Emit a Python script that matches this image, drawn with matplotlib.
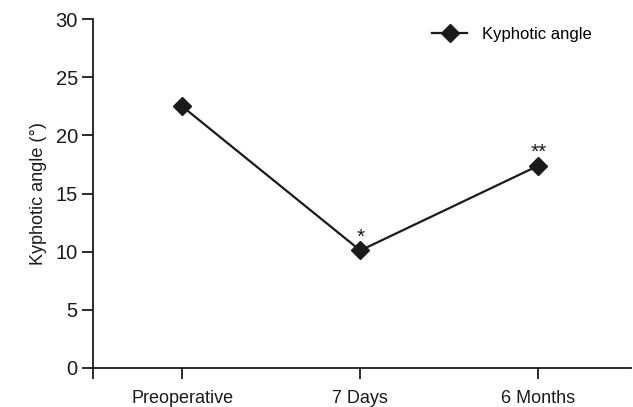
import matplotlib
matplotlib.use("Agg")
import matplotlib.pyplot as plt

plt.rcParams['font.family'] = ['Liberation Sans', 'DejaVu Sans']

# data
timepoints = ["Preoperative", "7 Days", "6 Months"]
kyphotic_angle = [22.5, 10.1, 17.4]
significance = ["", "*", "**"]
y_ticks = [0, 5, 10, 15, 20, 25, 30]

fig = plt.figure(figsize=(6.33, 4.07), dpi=100)
ax = fig.add_axes([0.147, 0.096, 0.85, 0.857])

x = list(range(len(timepoints)))
ax.plot(x, kyphotic_angle, color="#1a1a1a", linewidth=1.6, marker="D",
        markersize=9, label="Kyphotic angle")

# significance marks above the points
for xi, yi, s in zip(x, kyphotic_angle, significance):
    if s:
        ax.annotate(s, (xi, yi), xytext=(0, 3), textcoords="offset points",
                    ha="center", va="bottom", fontsize=15, color="#1a1a1a")

ax.set_xlim(-0.5, 2.52)
ax.set_ylim(0, 30)
ax.set_xticks(x)
ax.set_xticklabels(timepoints)
ax.set_xticks([-0.5], minor=True)
ax.set_yticks(y_ticks)

ax.spines["top"].set_visible(False)
ax.spines["right"].set_visible(False)
for sp in ["left", "bottom"]:
    ax.spines[sp].set_linewidth(1.3)
    ax.spines[sp].set_color("#1a1a1a")
ax.tick_params(axis="both", which="both", direction="out", length=8, width=1.3,
               color="#1a1a1a", labelcolor="#1a1a1a")
ax.tick_params(axis="x", pad=8, labelsize=13)
ax.tick_params(axis="y", pad=3, labelsize=14.5)

ax.set_ylabel("Kyphotic angle (°)", fontsize=13, color="#1a1a1a", labelpad=6)

ax.legend(loc="upper right", bbox_to_anchor=(0.955, 1.02), frameon=False,
          fontsize=12, handlelength=2.1, handletextpad=0.9)

fig.savefig("out.png", dpi=100)
